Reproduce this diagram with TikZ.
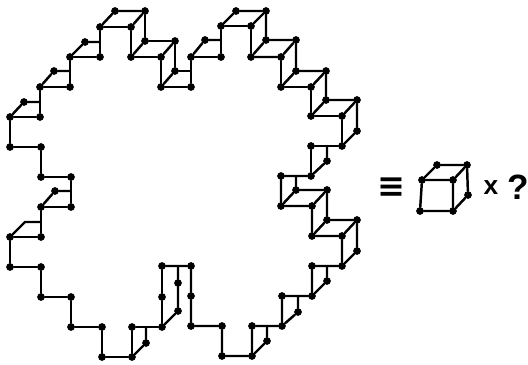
\documentclass[tikz,border=0pt]{standalone}
\usepackage{fontspec}
\setmainfont{Liberation Sans}
\newfontfamily\symbolfont{DejaVu Sans}

\tikzset{
    vtx/.style={circle, fill=black, inner sep=0pt, minimum size=4.4pt},
    edge/.style={line width=1.4pt, line cap=round, line join=round},
    sign/.style={inner sep=0pt, font=\bfseries\fontsize{15}{15}\selectfont}
}

\begin{document}
\begin{tikzpicture}[x=0.02cm, y=-0.02cm]
    \useasboundingbox (0,0) rectangle (528,365);

    % Vertices, upper left steps
    \foreach \name/\x/\y in {l1/10/117, l2/40/117, l3/10/147, l4/41/147, l5/41/177, l6/71/177,
        l7/24/102, l8/40/87, l9/70/87, l10/54/71, l11/70/57, l12/100/57, l13/85/42}
        \node[vtx] (\name) at (\x,\y) {};

    % Vertices, top
    \foreach \name/\x/\y in {t1/100/27, t2/131/27, t3/115/11, t4/145/11, t5/131/57, t6/145/41,
        t7/161/57, t8/175/41, t9/161/87, t10/175/71, t11/191/87, t12/191/57, t13/205/40,
        t14/221/57, t15/221/26, t16/251/26, t17/236/11, t18/266/11, t19/251/57, t20/266/40,
        t21/281/57, t22/296/40, t23/281/87, t24/296/71, t25/311/87, t26/326/71, t27/311/116,
        t28/326/100, t29/342/116, t30/357/100}
        \node[vtx] (\name) at (\x,\y) {};

    % Vertices, right side
    \foreach \name/\x/\y in {r1/357/131, r2/342/146, r3/311/146, r4/327/161, r5/311/176,
        r6/281/176, r7/296/190, r8/327/190, r9/281/206, r10/312/206, r11/327/220, r12/357/220,
        r13/312/236, r14/342/236, r15/357/251, r16/342/266, r17/312/266, r18/327/281,
        r19/312/296, r20/282/296, r21/298/312, r22/282/326, r23/252/326, r24/267/341,
        r25/252/356, r26/222/356, r27/222/326, r28/191/326, r29/191/296, r30/191/266}
        \node[vtx] (\name) at (\x,\y) {};

    % Vertices, bottom and lower left
    \foreach \name/\x/\y in {b1/162/266, b2/178/283, b3/162/297, b4/178/311, b5/162/327,
        b6/132/327, b7/146/343, b8/132/357, b9/102/357, b10/102/327, b11/71/327, b12/71/297,
        b13/41/297, b14/41/267, b15/10/267, b16/10/237, b17/41/237, b19/41/207, b20/71/207,
        b21/55/191}
        \node[vtx] (\name) at (\x,\y) {};

    % Line ends without a dot
    \foreach \name/\x/\y in {j1/40/102, j2/70/71, j3/100/42, j4/191/71, j5/221/40, j6/327/146,
        j7/296/176, j8/327/266, j9/298/296, j10/267/326, j11/178/266, j12/146/327, j13/41/222,
        j14/71/191, b18/25/222}
        \coordinate (\name) at (\x,\y);

    % Upper left steps
    \draw[edge] (l6) -- (l5) -- (l4) -- (l3) -- (l1) -- (l2) -- (l8) -- (l9) -- (l11) -- (l12) -- (t1);
    \draw[edge] (l1) -- (l7) -- (j1);
    \draw[edge] (l8) -- (l10) -- (j2);
    \draw[edge] (l11) -- (l13) -- (j3);

    % First top cubes
    \draw[edge] (t1) -- (t2) -- (t5) -- (t7) -- (t9) -- (t11) -- (t12) -- (t14);
    \draw[edge] (t1) -- (t3) -- (t4) -- (t2);
    \draw[edge] (t4) -- (t6) -- (t8) -- (t10) -- (j4);
    \draw[edge] (t5) -- (t6);
    \draw[edge] (t7) -- (t8);
    \draw[edge] (t9) -- (t10);
    \draw[edge] (t12) -- (t13) -- (j5);

    % Second top cubes
    \draw[edge] (t14) -- (t15) -- (t16) -- (t19);
    \draw[edge] (t15) -- (t17) -- (t18) -- (t16);
    \draw[edge] (t18) -- (t20) -- (t22) -- (t24) -- (t26) -- (t28) -- (t30) -- (r1) -- (r2);
    \draw[edge] (t19) -- (t20);
    \draw[edge] (t19) -- (t21) -- (t22);
    \draw[edge] (t21) -- (t23) -- (t25) -- (t27) -- (t29) -- (r2) -- (r3) -- (r5);
    \draw[edge] (t23) -- (t24);
    \draw[edge] (t25) -- (t26);
    \draw[edge] (t27) -- (t28);
    \draw[edge] (t29) -- (t30);

    % Right side
    \draw[edge] (j6) -- (r4) -- (r5) -- (r6) -- (r9) -- (r10) -- (r13) -- (r14) -- (r16) -- (r17) -- (r19);
    \draw[edge] (j7) -- (r7) -- (r8) -- (r11) -- (r12) -- (r15) -- (r16);
    \draw[edge] (r7) -- (r9);
    \draw[edge] (r10) -- (r8);
    \draw[edge] (r13) -- (r11);
    \draw[edge] (r14) -- (r12);
    \draw[edge] (j8) -- (r18) -- (r19) -- (r20) -- (r22) -- (r23) -- (r25) -- (r26) -- (r27) -- (r28) -- (r29) -- (r30) -- (b1);
    \draw[edge] (j9) -- (r21) -- (r22);
    \draw[edge] (j10) -- (r24) -- (r25);

    % Bottom
    \draw[edge] (b1) -- (b3) -- (b5) -- (b6) -- (b8) -- (b9) -- (b10) -- (b11) -- (b12) -- (b13) -- (b14) -- (b15) -- (b16) -- (b17) -- (b19) -- (b20) -- (l6);
    \draw[edge] (j11) -- (b2) -- (b4) -- (b5);
    \draw[edge] (j12) -- (b7) -- (b8);

    % Lower left steps
    \draw[edge] (b16) -- (b18) -- (j13);
    \draw[edge] (b19) -- (b21) -- (j14);

    % Cube
    \node[vtx] (c1) at (422,180) {};
    \node[vtx] (c2) at (453,180) {};
    \node[vtx] (c3) at (437,165) {};
    \node[vtx] (c4) at (467,165) {};
    \node[vtx] (c5) at (468,195) {};
    \node[vtx] (c6) at (420,211) {};
    \node[vtx] (c7) at (453,211) {};
    \draw[edge] (c1) -- (c2) -- (c7) -- (c6) -- (c1) -- (c3) -- (c4) -- (c5) -- (c7);
    \draw[edge] (c2) -- (c4);

    % Signs
    \node[sign, font=\symbolfont\bfseries\fontsize{19}{19}\selectfont] (equiv) at (391,188) {≡};
    \node[sign] (times) at (491,188) {x};
    \node[sign, font=\bfseries\fontsize{20}{20}\selectfont] (what) at (518,187) {?};
\end{tikzpicture}
\end{document}
